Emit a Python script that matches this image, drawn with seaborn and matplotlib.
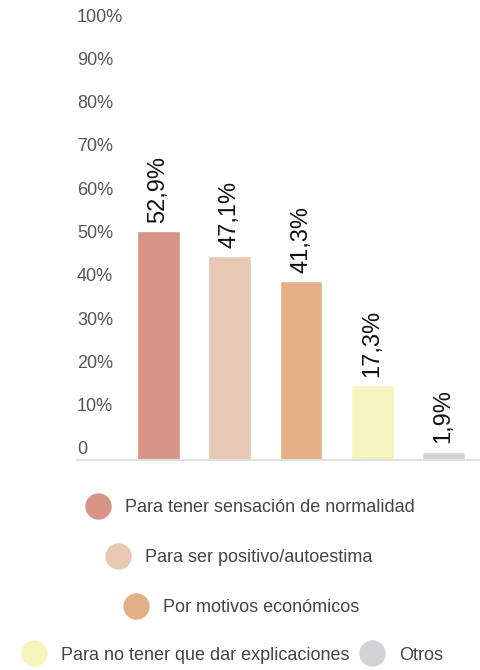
import matplotlib
matplotlib.use("Agg")
import matplotlib.pyplot as plt
import matplotlib.transforms as mtransforms
from matplotlib.lines import Line2D
import seaborn as sns

# data
categories = [
    "Para tener sensación de normalidad",
    "Para ser positivo/autoestima",
    "Por motivos económicos",
    "Para no tener que dar explicaciones",
    "Otros",
]
values = [52.9, 47.1, 41.3, 17.3, 1.9]
colors = ["#d79487", "#e7c8b3", "#e3b085", "#f5f4bf", "#d3d2d5"]
ytick_values = [0, 10, 20, 30, 40, 50, 60, 70, 80, 90, 100]
ytick_labels = ["0", "10%", "20%", "30%", "40%", "50%", "60%", "70%", "80%", "90%", "100%"]

sns.set_style("white")
plt.rcParams["font.family"] = ["Liberation Sans", "DejaVu Sans"]

fig = plt.figure(figsize=(4.81, 6.70), dpi=100)
ax = fig.add_axes([77 / 481, 210 / 670, 1 - 77 / 481, 433 / 670])

sns.barplot(x=categories, y=values, hue=categories, palette=colors,
            saturation=1, width=0.6, legend=False, ax=ax)

ax.set_xlim(-1.144, 4.526)
ax.set_ylim(0, 100)

# value labels on top of bars, rotated
for container, v in zip(ax.containers, values):
    ax.bar_label(container, labels=[f"{v:.1f}".replace(".", ",") + "%"],
                 rotation=90, padding=6, fontsize=17, color="#111111")

# y axis: labels left aligned, sitting above their (invisible) gridlines
ax.set_yticks(ytick_values)
ax.set_yticklabels(ytick_labels)
ax.tick_params(axis="y", length=0, pad=0, labelsize=13, labelcolor="#555555")
ax.tick_params(axis="x", length=0, labelbottom=False)
shift = mtransforms.ScaledTranslation(0, 0.12, fig.dpi_scale_trans)
for tick in ax.yaxis.get_major_ticks():
    tick.label1.set_horizontalalignment("left")
    tick.label1.set_transform(tick.label1.get_transform() + shift)

ax.set_xlabel("")
ax.set_ylabel("")
for side in ["top", "right", "left"]:
    ax.spines[side].set_visible(False)
ax.spines["bottom"].set_color("#e0e0e0")
ax.spines["bottom"].set_linewidth(1.6)

# legend, laid out in rows like the original
handles = [Line2D([], [], marker="o", linestyle="", markersize=19,
                  markerfacecolor=c, markeredgewidth=0) for c in colors]
rows = [([0], 84, 508), ([1], 104, 558), ([2], 122, 608), ([3, 4], 20, 655)]
for idx, x_left, y_px in rows:
    fig.legend([handles[i] for i in idx], [categories[i] for i in idx],
               loc="center left", bbox_to_anchor=(x_left / 481, (670 - y_px) / 670),
               ncol=len(idx), frameon=False, fontsize=13, labelcolor="#444444",
               handlelength=1.5, handletextpad=0.75, columnspacing=0.5,
               borderpad=0, borderaxespad=0)

fig.savefig("out.png", dpi=100)
